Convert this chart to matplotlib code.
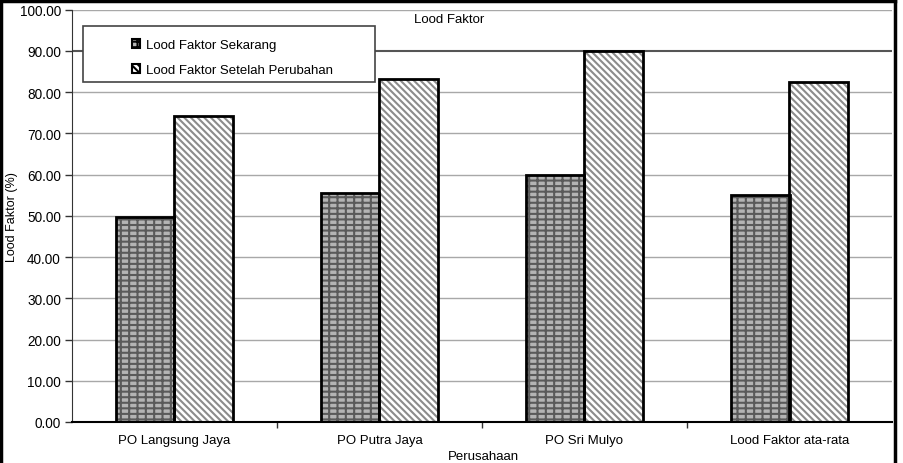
import numpy as np
import matplotlib
matplotlib.use('Agg')
import matplotlib.pyplot as plt
from matplotlib.patches import Patch, Rectangle
from matplotlib.lines import Line2D

# Data
companies = ['PO Langsung Jaya', 'PO Putra Jaya', 'PO Sri Mulyo', 'Lood Faktor ata-rata']
lf_now = [49.6, 55.5, 60.0, 55.1]
lf_after = [74.1, 83.2, 90.0, 82.4]
series_names = ['Lood Faktor Sekarang', 'Lood Faktor Setelah Perubahan']
yticks = np.arange(0, 101, 10)

plt.rcParams['font.family'] = ['Liberation Sans', 'DejaVu Sans']
plt.rcParams['hatch.linewidth'] = 1.5

W, H = 904, 464
fig = plt.figure(figsize=(W / 100, H / 100), dpi=100)
ax = fig.add_axes([72 / W, 41 / H, (892 - 72) / W, (423 - 10.7) / H])

x = np.arange(len(companies))
bw = 0.285
brick = '---||'
stripes = '\\\\\\\\\\'

# pattern fills
ax.bar(x - bw / 2, lf_now, bw, color='#b4b4b4', edgecolor='#5a5a5a', hatch=brick, linewidth=0, zorder=2)
ax.bar(x + bw / 2, lf_after, bw, color='white', edgecolor='#8c8c8c', hatch=stripes, linewidth=0, zorder=2)
# black outlines
ax.bar(x - bw / 2, lf_now, bw, fill=False, edgecolor='black', linewidth=2, zorder=3)
ax.bar(x + bw / 2, lf_after, bw, fill=False, edgecolor='black', linewidth=2, zorder=3)

ax.set_xlim(-0.5, len(companies) - 0.5)
ax.set_ylim(0, 100)
ax.set_yticks(yticks)
ax.set_yticklabels(['%.2f' % v for v in yticks], fontsize=9.8)
ax.tick_params(axis='y', length=5, width=1, color='#333333', pad=3)

# category labels in the middle, tick marks on the boundaries
ax.set_xticks(np.arange(0.5, len(companies) - 0.5, 1))
ax.set_xticklabels([])
ax.set_xticks(x, minor=True)
ax.set_xticklabels(companies, minor=True, fontsize=9.5)
ax.tick_params(axis='x', which='major', length=4, width=1, color='#333333')
ax.tick_params(axis='x', which='minor', length=0, pad=9)

ax.grid(axis='y', color='#a8a8a8', linewidth=1, zorder=0)
ax.set_axisbelow(True)
for gl, v in zip(ax.get_ygridlines(), yticks):
    if v == 90:
        gl.set_color('#555555')
        gl.set_linewidth(1.5)

for s in ['top', 'right']:
    ax.spines[s].set_visible(False)
ax.spines['left'].set_color('#333333')
ax.spines['bottom'].set_color('black')
ax.spines['bottom'].set_linewidth(1.5)

fig.text(12 / W, (H - 217) / H, 'Lood Faktor (%)', fontsize=9, rotation=90,
         ha='center', va='center')
fig.text(483 / W, 7 / H, 'Perusahaan', fontsize=9.5, ha='center', va='center')
fig.text(449 / W, (H - 20) / H, 'Lood Faktor', fontsize=9.5, ha='center', va='center')

# legend box
ax.add_patch(Rectangle((83, H - 83), 292, 56, transform=None, facecolor='white',
                       edgecolor='#444444', linewidth=1.2, zorder=4))
handles = [Patch(facecolor='#b4b4b4', edgecolor='black', hatch=brick, linewidth=1.5),
           Patch(facecolor='white', edgecolor='black', hatch=stripes, linewidth=1.5)]
leg = ax.legend(handles, series_names, loc='upper left', frameon=False, fontsize=9.5,
                bbox_to_anchor=(120 / W, (H - 28) / H), bbox_transform=fig.transFigure,
                handlelength=0.65, handleheight=0.65, handletextpad=0.45, labelspacing=1.0)
leg.set_zorder(5)

# figure border
for xs, ys in [([1.5, 1.5], [0, H - 1.5]), ([1.5, 895], [H - 1.5, H - 1.5]), ([895, 895], [0, H - 1.5])]:
    fig.add_artist(Line2D([v / W for v in xs], [v / H for v in ys], transform=fig.transFigure,
                          color='black', linewidth=2.5))

fig.savefig('out.png', dpi=100)
